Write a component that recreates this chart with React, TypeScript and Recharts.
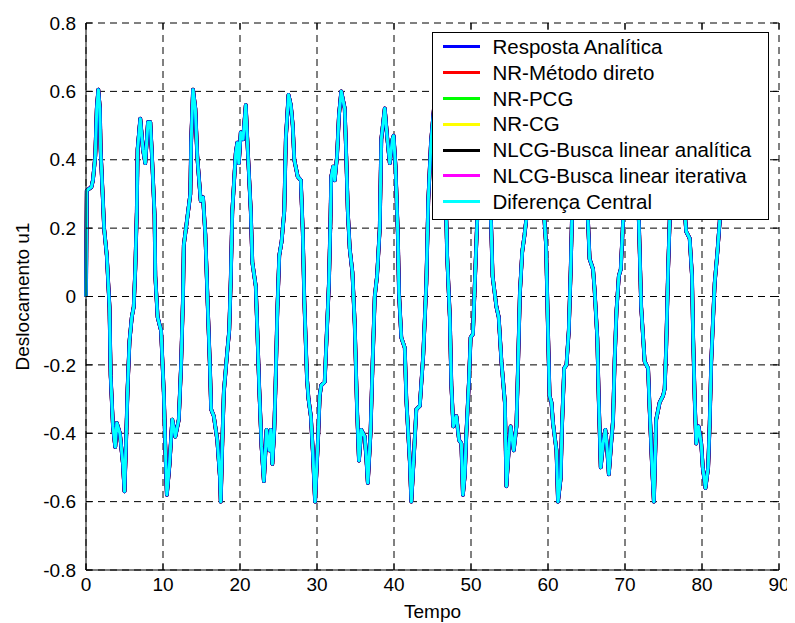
import React from 'react';
import { LineChart, Line, XAxis, YAxis, CartesianGrid, Legend } from 'recharts';

// tempo (s) e deslocamento u1
const tempo = [
  0, 0.1, 0.7, 0.9, 1.2, 1.4, 1.6, 1.8, 1.9, 2.2, 2.35, 2.7, 3.05, 3.2, 3.5, 3.8, 4.0, 4.4, 4.8, 5.0,
  5.2, 5.4, 5.65, 5.95, 6.2, 6.4, 6.6, 6.7, 7.05, 7.4, 7.7, 8.05, 8.35, 8.55, 8.9, 9.0, 9.3, 9.75, 10.1, 10.3,
  10.5, 10.85, 11.2, 11.6, 12.05, 12.35, 12.6, 12.7, 13.1, 13.55, 13.65, 13.9, 14.2, 14.45, 14.9, 15.2, 15.5, 15.8, 16.1, 16.25,
  16.6, 17.05, 17.4, 17.5, 17.7, 17.9, 18.35, 18.6, 18.8, 19.0, 19.45, 19.65, 19.85, 20.1, 20.4, 20.75, 21.05, 21.4, 21.6, 22.05,
  22.25, 22.5, 22.8, 23.1, 23.45, 23.8, 24.0, 24.2, 24.45, 24.65, 24.85, 25.1, 25.4, 25.75, 25.95, 26.3, 26.6, 26.85, 27.05, 27.5,
  27.9, 28.15, 28.35, 28.7, 28.9, 29.2, 29.45, 29.75, 30.15, 30.35, 30.55, 31.0, 31.2, 31.55, 31.75, 31.85, 32.1, 32.3, 32.6, 32.85,
  33.15, 33.6, 33.8, 34.0, 34.25, 34.6, 34.9, 35.2, 35.45, 35.75, 36.2, 36.4, 36.6, 36.95, 37.2, 37.5, 37.8, 38.15, 38.35, 38.8,
  39.1, 39.45, 39.8, 39.95, 40.2, 40.5, 40.65, 40.95, 41.4, 41.6, 42.05, 42.25, 42.55, 42.9, 43.35, 43.8, 44.2, 44.45, 44.8, 45.3,
  45.8, 46.3, 46.8, 46.9, 47.25, 47.45, 47.7, 48.1, 48.45, 48.75, 48.95, 49.2, 49.4, 49.75, 49.95, 50.25, 50.6, 50.8, 51.1, 51.5,
  51.9, 52.3, 52.6, 52.8, 53.3, 53.6, 53.95, 54.4, 54.6, 54.95, 55.15, 55.55, 55.9, 56.1, 56.35, 56.65, 56.95, 57.2, 57.5, 57.9,
  58.4, 58.8, 59.55, 59.75, 60.0, 60.2, 60.45, 60.65, 61.1, 61.3, 61.65, 61.8, 62.1, 62.4, 62.7, 62.95, 63.1, 63.4, 63.8, 64.3,
  64.8, 65.2, 65.4, 65.85, 66.05, 66.4, 66.6, 66.85, 67.15, 67.45, 67.7, 67.9, 68.2, 68.45, 68.65, 68.9, 69.2, 69.45, 69.75, 70.1,
  70.5, 71.0, 71.5, 71.8, 71.9, 72.1, 72.55, 73.0, 73.2, 73.5, 73.75, 74.05, 74.5, 74.95, 75.15, 75.35, 75.6, 75.8, 76.2, 76.7,
  77.2, 77.6, 77.85, 77.95, 78.4, 78.7, 78.85, 79.05, 79.25, 79.55, 79.9, 80.1, 80.45, 80.8, 81.0, 81.2, 81.45, 81.65, 82.0, 82.3,
  82.5,
];

const u1 = [
  0, 0.31, 0.32, 0.34, 0.41, 0.55, 0.605, 0.55, 0.43, 0.28, 0.2, 0.12, -0.03, -0.23, -0.38, -0.44, -0.37, -0.4, -0.49, -0.57,
  -0.43, -0.27, -0.13, -0.06, -0.03, 0.08, 0.25, 0.43, 0.52, 0.43, 0.39, 0.51, 0.51, 0.42, 0.24, 0.06, -0.06, -0.1, -0.28, -0.44,
  -0.58, -0.49, -0.36, -0.41, -0.36, -0.2, 0, 0.15, 0.22, 0.3, 0.45, 0.605, 0.55, 0.41, 0.28, 0.29, 0.18, -0.02, -0.21, -0.33,
  -0.35, -0.42, -0.53, -0.6, -0.43, -0.28, -0.16, -0.1, 0.05, 0.25, 0.42, 0.45, 0.39, 0.48, 0.46, 0.56, 0.41, 0.25, 0.1, 0.03,
  -0.1, -0.27, -0.44, -0.54, -0.39, -0.45, -0.39, -0.49, -0.39, -0.23, -0.04, 0.12, 0.16, 0.25, 0.46, 0.59, 0.56, 0.5, 0.4, 0.35,
  0.34, 0.19, -0.01, -0.24, -0.3, -0.35, -0.45, -0.6, -0.41, -0.29, -0.26, -0.25, -0.145, 0.04, 0.225, 0.35, 0.38, 0.34, 0.41, 0.53,
  0.6, 0.55, 0.41, 0.25, 0.14, 0.07, -0.08, -0.33, -0.48, -0.39, -0.41, -0.47, -0.545, -0.4, -0.21, 0, 0.06, 0.2, 0.46, 0.55,
  0.47, 0.39, 0.46, 0.47, 0.38, 0.18, 0.01, -0.12, -0.15, -0.3, -0.48, -0.6, -0.48, -0.33, -0.32, -0.17, 0.04, 0.28, 0.45, 0.58,
  0.5, 0.4, 0.22, 0.12, -0.06, -0.26, -0.38, -0.35, -0.42, -0.43, -0.58, -0.52, -0.4, -0.24, -0.12, -0.11, 0.1, 0.22, 0.45, 0.57,
  0.5, 0.35, 0.22, 0.06, -0.03, -0.06, -0.19, -0.31, -0.555, -0.43, -0.38, -0.45, -0.38, -0.21, 0.01, 0.13, 0.18, 0.23, 0.45, 0.6,
  0.5, 0.35, 0.22, 0.15, -0.1, -0.29, -0.31, -0.37, -0.45, -0.6, -0.53, -0.39, -0.21, -0.2, -0.1, 0.08, 0.22, 0.45, 0.58, 0.5,
  0.35, 0.22, 0.11, 0.08, 0.02, -0.12, -0.31, -0.5, -0.43, -0.39, -0.45, -0.52, -0.43, -0.36, -0.19, -0.04, 0.06, 0.08, 0.22, 0.45,
  0.6, 0.5, 0.35, 0.22, 0.14, -0.03, -0.19, -0.21, -0.33, -0.49, -0.6, -0.36, -0.31, -0.29, -0.27, -0.15, 0.08, 0.22, 0.45, 0.58,
  0.5, 0.35, 0.22, 0.19, 0.17, 0.06, -0.12, -0.3, -0.43, -0.38, -0.43, -0.5, -0.56, -0.5, -0.37, -0.19, -0.06, 0.04, 0.13, 0.22,
  0.35,
];

const xTicks = [0, 10, 20, 30, 40, 50, 60, 70, 80, 90];
const yTicks = [-0.8, -0.6, -0.4, -0.2, 0, 0.2, 0.4, 0.6, 0.8];

// legend order
const series = [
  { key: 'resposta', name: 'Resposta Analítica', color: '#0000ff' },
  { key: 'nrDireto', name: 'NR-Método direto', color: '#ff0000' },
  { key: 'nrPcg', name: 'NR-PCG', color: '#00ff00' },
  { key: 'nrCg', name: 'NR-CG', color: '#ffff00' },
  { key: 'nlcgAnalitica', name: 'NLCG-Busca linear analítica', color: '#000000' },
  { key: 'nlcgIterativa', name: 'NLCG-Busca linear iterativa', color: '#ff00ff' },
  { key: 'difCentral', name: 'Diferença Central', color: '#00ffff' },
];

// draw order (bottom -> top) and widths, so the cyan curve sits on top like in the figure
const drawOrder = [
  { key: 'nrDireto', width: 3.6 },
  { key: 'nrPcg', width: 3.6 },
  { key: 'nrCg', width: 3.6 },
  { key: 'nlcgIterativa', width: 3.8 },
  { key: 'nlcgAnalitica', width: 3.8 },
  { key: 'resposta', width: 3.7 },
  { key: 'difCentral', width: 3 },
];

const data = tempo.map((t, i) => {
  const row: Record<string, number> = { t };
  series.forEach(s => { row[s.key] = u1[i]; });
  return row;
});

const W = 787;
const H = 615;
const margin = { top: 15, right: 16, bottom: 3, left: 4 };
const Y_AXIS_W = 74;
const X_AXIS_H = 50;
const plotLeft = margin.left + Y_AXIS_W;
const plotTop = margin.top;
const plotRight = W - margin.right;
const plotBottom = H - margin.bottom - X_AXIS_H;
const TICK_LEN = 6;

const FONT = '"Liberation Sans", Arial, Helvetica, sans-serif';

const fmtY = (v: number) => {
  const r = Math.round(v * 10) / 10;
  return r === 0 ? '0' : String(r);
};

const XTick = (props: any) => {
  const { x, y, payload } = props;
  return (
    <g>
      <line x1={x} x2={x} y1={plotBottom} y2={plotBottom - TICK_LEN} stroke="#000" />
      <line x1={x} x2={x} y1={plotTop} y2={plotTop + TICK_LEN} stroke="#000" />
      <text x={x} y={y} dy="0.71em" textAnchor="middle" fill="#000" fontFamily={FONT} fontSize={19}>
        {payload.value}
      </text>
    </g>
  );
};

const YTick = (props: any) => {
  const { x, y, payload } = props;
  return (
    <g>
      <line x1={plotLeft} x2={plotLeft + TICK_LEN} y1={y} y2={y} stroke="#000" />
      <line x1={plotRight} x2={plotRight - TICK_LEN} y1={y} y2={y} stroke="#000" />
      <text x={x} y={y} dy="0.35em" textAnchor="end" fill="#000" fontFamily={FONT} fontSize={19}>
        {fmtY(payload.value)}
      </text>
    </g>
  );
};

const LegendBox = () => (
  <div
    style={{
      width: 335,
      height: 185,
      border: '1px solid #000',
      background: '#fff',
      paddingTop: 1,
      fontFamily: FONT,
      fontSize: 20.5,
      color: '#000',
    }}
  >
    {series.map(s => (
      <div key={s.key} style={{ display: 'flex', alignItems: 'center', height: 25.8 }}>
        <div style={{ marginLeft: 10, width: 37, height: 3, background: s.color }} />
        <span style={{ marginLeft: 12.5, whiteSpace: 'nowrap', lineHeight: '25.8px' }}>{s.name}</span>
      </div>
    ))}
  </div>
);

export default function App() {
  return (
    <LineChart width={W} height={H} data={data} margin={margin}>
      <CartesianGrid stroke="#000" strokeDasharray="7 5" />
      <XAxis
        dataKey="t"
        type="number"
        domain={[0, 90]}
        ticks={xTicks}
        height={X_AXIS_H}
        tickSize={0}
        tickMargin={8}
        tick={<XTick />}
        axisLine={{ stroke: '#000' }}
        tickLine={false}
        interval={0}
        label={{ value: 'Tempo', position: 'insideBottom', offset: 2, fill: '#000', fontFamily: FONT, fontSize: 19 }}
      />
      <YAxis
        type="number"
        domain={[-0.8, 0.8]}
        ticks={yTicks}
        width={Y_AXIS_W}
        tickSize={0}
        tickMargin={10}
        tick={<YTick />}
        axisLine={{ stroke: '#000' }}
        tickLine={false}
        interval={0}
        allowDataOverflow
        label={{
          value: 'Deslocamento u1',
          angle: -90,
          position: 'insideLeft',
          offset: 10,
          fill: '#000',
          fontFamily: FONT,
          fontSize: 19,
          style: { textAnchor: 'middle' },
        }}
      />
      {drawOrder.map(d => {
        const s = series.find(q => q.key === d.key)!;
        return (
          <Line
            key={s.key}
            type="linear"
            dataKey={s.key}
            name={s.name}
            stroke={s.color}
            strokeWidth={d.width}
            strokeLinejoin="round"
            dot={false}
            activeDot={false}
            isAnimationActive={false}
          />
        );
      })}
      <Legend
        layout="horizontal"
        verticalAlign="middle"
        align="center"
        wrapperStyle={{ left: 424, top: 24, width: 337, height: 187 }}
        content={<LegendBox />}
      />
    </LineChart>
  );
}
